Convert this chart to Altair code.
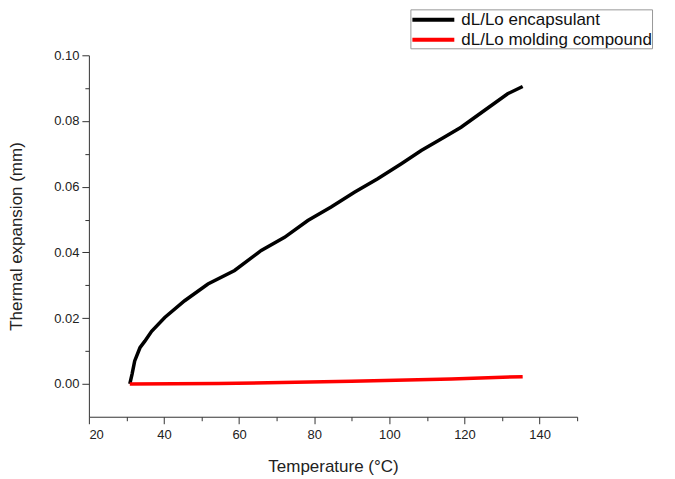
import altair as alt
import pandas as pd

enc_temp = [30.9, 31.5, 32.2, 33.6, 34.9, 36.7, 40.2, 45.5, 51.7, 58.8, 65.9, 72.1, 78.3,
            84.5, 90.7, 96.9, 103.2, 108.5, 114.7, 119.1, 125.3, 131.5, 135.5]
enc_val = [0.0, 0.003, 0.007, 0.011, 0.013, 0.016, 0.0202, 0.0253, 0.0304, 0.0345, 0.0406,
           0.0446, 0.0497, 0.0538, 0.0583, 0.0624, 0.067, 0.0710, 0.0751, 0.0781, 0.0832,
           0.0883, 0.0905]
mold_temp = [30.9, 54.4, 89.9, 116.5, 135.5]
mold_val = [0.0, 0.0001, 0.0008, 0.0015, 0.0022]

series_names = ["dL/Lo encapsulant", "dL/Lo molding compound"]

df = pd.concat([
    pd.DataFrame({"T": enc_temp, "v": enc_val, "s": series_names[0]}),
    pd.DataFrame({"T": mold_temp, "v": mold_val, "s": series_names[1]}),
])

x_ticks = list(range(20, 151, 10))
y_ticks = [round(i * 0.01, 2) for i in range(0, 11)]

font = "Liberation Sans"

chart = alt.Chart(df).mark_line(strokeWidth=3.5).encode(
    x=alt.X("T:Q", scale=alt.Scale(domain=[20, 150], nice=False, zero=False),
            axis=alt.Axis(title="Temperature (°C)", values=x_ticks, grid=False,
                          labelExpr="datum.value % 20 === 0 ? datum.value : ''",
                          tickSize={"condition": {"test": "datum.value % 20 === 0", "value": 7}, "value": 4},
                          labelFontSize=13, titleFontSize=17, titleFontWeight="normal",
                          labelFont=font, titleFont=font, labelColor="#222", titleColor="#222",
                          domainColor="#333", tickColor="#333", titlePadding=17, labelPadding=5)),
    y=alt.Y("v:Q", scale=alt.Scale(domain=[-0.01, 0.10], nice=False, zero=False),
            axis=alt.Axis(title="Thermal expansion (mm)", values=y_ticks, grid=False,
                          labelExpr="round(datum.value*100) % 2 === 0 ? format(datum.value, '.2f') : ''",
                          tickSize={"condition": {"test": "round(datum.value*100) % 2 === 0", "value": 7}, "value": 4},
                          labelFontSize=13, titleFontSize=17, titleFontWeight="normal",
                          labelFont=font, titleFont=font, labelColor="#222", titleColor="#222",
                          domainColor="#333", tickColor="#333", titlePadding=28, labelPadding=3)),
    color=alt.Color("s:N", scale=alt.Scale(domain=series_names, range=["#000000", "#ff0000"]),
                    legend=alt.Legend(title=None, orient="none", legendX=322, legendY=-46,
                                      symbolType="M-1,0H3.94", symbolSize=289, symbolStrokeWidth=4,
                                      labelFontSize=17, labelFont=font, labelColor="#111",
                                      strokeColor="#999", padding=0, rowPadding=1,
                                      labelOffset=30, fillColor="white", labelLimit=400)),
).properties(width=489, height=362, padding={"left": 81, "top": 47, "right": 90, "bottom": 62},
             autosize="none")

chart = chart.configure_view(strokeWidth=0, stroke="transparent")

chart.save("out.html", embed_options={"renderer": "svg", "actions": False})
